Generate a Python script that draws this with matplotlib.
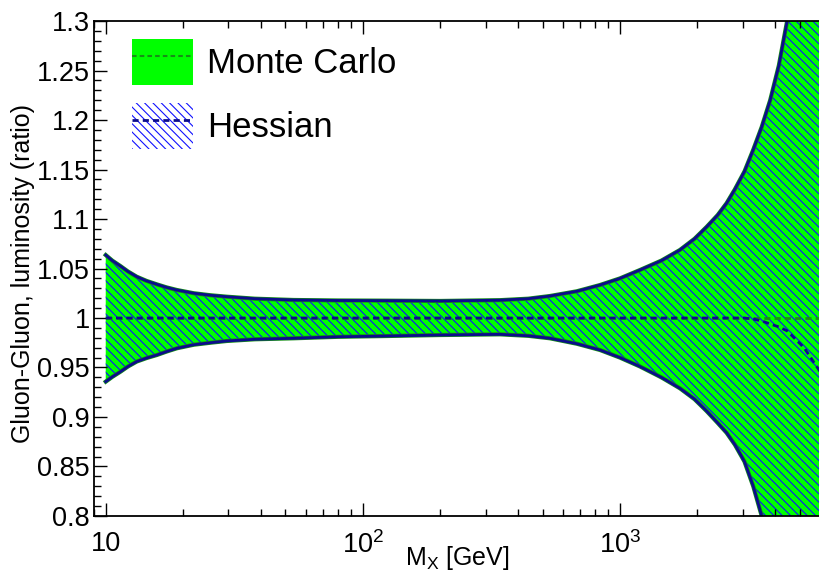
import matplotlib
matplotlib.use('Agg')
import matplotlib.pyplot as plt
from matplotlib.patches import Patch
from matplotlib.lines import Line2D
from matplotlib.ticker import FixedLocator, LogLocator, MultipleLocator, NullFormatter

plt.rcParams['font.family'] = ['Liberation Sans', 'DejaVu Sans']
plt.rcParams['mathtext.fontset'] = 'custom'
plt.rcParams['mathtext.rm'] = 'Liberation Sans'
plt.rcParams['mathtext.it'] = 'Liberation Sans:italic'
plt.rcParams['hatch.linewidth'] = 0.8
plt.rcParams['hatch.color'] = '#1010ff'

# mass points (GeV) and band edges
mx = [10, 10.6, 11.4, 12.2, 13.2, 14.4, 15.8, 17.2, 18.9, 22, 25.5, 29.6, 38,
      53.8, 80, 124, 200, 341, 440, 534, 680, 836, 1000, 1197, 1450, 1711,
      1950, 2173, 2400, 2600, 2800, 3050, 3300, 3560, 3840, 4150, 4470, 5200, 6000]
mc_up = [1.0636, 1.058, 1.0525, 1.047, 1.0417, 1.0375, 1.034, 1.031, 1.0283,
         1.025, 1.023, 1.0215, 1.0195, 1.0182, 1.0177, 1.0175, 1.0172, 1.018,
         1.0195, 1.0222, 1.027, 1.0333, 1.040, 1.0485, 1.058, 1.0687, 1.080,
         1.092, 1.104, 1.116, 1.130, 1.148, 1.170, 1.193, 1.22, 1.255, 1.30,
         1.40, 1.52]
mc_dn = [0.9357, 0.9405, 0.9457, 0.951, 0.956, 0.9595, 0.9626, 0.966, 0.9694,
         0.973, 0.975, 0.9768, 0.9785, 0.9795, 0.981, 0.9818, 0.9828, 0.9835,
         0.982, 0.9795, 0.974, 0.9677, 0.960, 0.951, 0.940, 0.929, 0.918,
         0.906, 0.894, 0.884, 0.872, 0.855, 0.830, 0.80, 0.77, 0.73, 0.69,
         0.60, 0.50]
mc_cv = [1.0] * len(mx)
hess_up = [1.0636, 1.058, 1.0525, 1.047, 1.0417, 1.0375, 1.034, 1.031, 1.0283,
           1.025, 1.023, 1.0215, 1.0195, 1.0182, 1.0177, 1.0175, 1.0172, 1.018,
           1.0195, 1.0222, 1.027, 1.0333, 1.040, 1.0485, 1.058, 1.0687, 1.080,
           1.092, 1.104, 1.116, 1.130, 1.148, 1.170, 1.193, 1.22, 1.255, 1.30,
           1.40, 1.52]
hess_dn = [0.9357, 0.9405, 0.9457, 0.951, 0.956, 0.9595, 0.9626, 0.966, 0.9694,
           0.973, 0.975, 0.9768, 0.9785, 0.9795, 0.981, 0.9818, 0.9828, 0.9835,
           0.982, 0.9795, 0.974, 0.9677, 0.960, 0.951, 0.940, 0.929, 0.918,
           0.906, 0.894, 0.884, 0.872, 0.855, 0.830, 0.80, 0.77, 0.73, 0.69,
           0.60, 0.50]
hess_cv = [1.0] * 32 + [0.999, 0.997, 0.994, 0.991, 0.987, 0.970, 0.946]

yticks = [0.8, 0.85, 0.9, 0.95, 1.0, 1.05, 1.1, 1.15, 1.2, 1.25, 1.3]
ytick_labels = ['0.8', '0.85', '0.9', '0.95', '1', '1.05', '1.1', '1.15', '1.2', '1.25', '1.3']
xticks = [10, 100, 1000]
xtick_labels = ['10', '$10^2$', '$10^3$']

green = '#00ff00'
dkgreen = '#178f17'
navy = '#0c0c8c'
hatch = '\\\\\\\\'

fig = plt.figure(figsize=(8.2, 5.76), dpi=100)
ax = fig.add_axes([0.1146, 0.1042, 0.8854, 0.8593])

# Monte Carlo band
ax.fill_between(mx, mc_dn, mc_up, color=green, lw=0)
ax.plot(mx, mc_up, color=dkgreen, lw=3)
ax.plot(mx, mc_dn, color=dkgreen, lw=3)
ax.plot(mx, mc_cv, color=dkgreen, lw=2, dashes=(2.2, 1.5))

# Hessian band (hatched)
ax.fill_between(mx, hess_dn, hess_up, facecolor='none', edgecolor='#1010ff',
                hatch=hatch, lw=0)
ax.plot(mx, hess_up, color=navy, lw=2)
ax.plot(mx, hess_dn, color=navy, lw=2)
ax.plot(mx, hess_cv, color=navy, lw=2, dashes=(2.2, 1.5))

ax.set_xscale('log')
ax.set_xlim(9, 6000)
ax.set_ylim(0.8, 1.3)

ax.xaxis.set_major_locator(FixedLocator(xticks))
ax.set_xticklabels(xtick_labels)
ax.xaxis.set_minor_locator(LogLocator(base=10, subs=range(2, 10)))
ax.xaxis.set_minor_formatter(NullFormatter())
ax.yaxis.set_major_locator(FixedLocator(yticks))
ax.set_yticklabels(ytick_labels)
ax.yaxis.set_minor_locator(MultipleLocator(0.01))

ax.tick_params(which='both', direction='in', top=True, right=False, labelsize=19.5, width=1)
ax.tick_params(which='major', length=9.5)
ax.tick_params(which='minor', length=4.7)
ax.tick_params(axis='x', which='major', pad=11)
ax.tick_params(axis='y', which='major', pad=3)
ax.spines['right'].set_visible(False)
for s in ['left', 'top', 'bottom']:
    ax.spines[s].set_linewidth(1.3)

xl = ax.set_xlabel('M$_{\\rm X}$ [GeV]', fontsize=18)
ax.xaxis.set_label_coords(0.5, -0.099)
xl.set_va('baseline')
ax.set_ylabel('Gluon-Gluon, luminosity (ratio)', fontsize=18)
ax.yaxis.set_label_coords(-0.081, 0.49)

h_mc = (Patch(facecolor=green, edgecolor='none'),
        Line2D([], [], color=dkgreen, lw=1.5, dashes=(2.2, 1.5)))
h_hs = (Patch(facecolor='white', edgecolor='#1010ff', hatch=hatch, lw=0),
        Line2D([], [], color=navy, lw=2, dashes=(2.2, 1.5)))
ax.legend([h_mc, h_hs], ['Monte Carlo', 'Hessian'], loc='upper left',
          bbox_to_anchor=(0.052, 0.9636), borderpad=0, borderaxespad=0,
          frameon=False, fontsize=25, handlelength=1.76, handleheight=1.663,
          handletextpad=0.41, labelspacing=0.52)

fig.savefig('out.png', dpi=100)
